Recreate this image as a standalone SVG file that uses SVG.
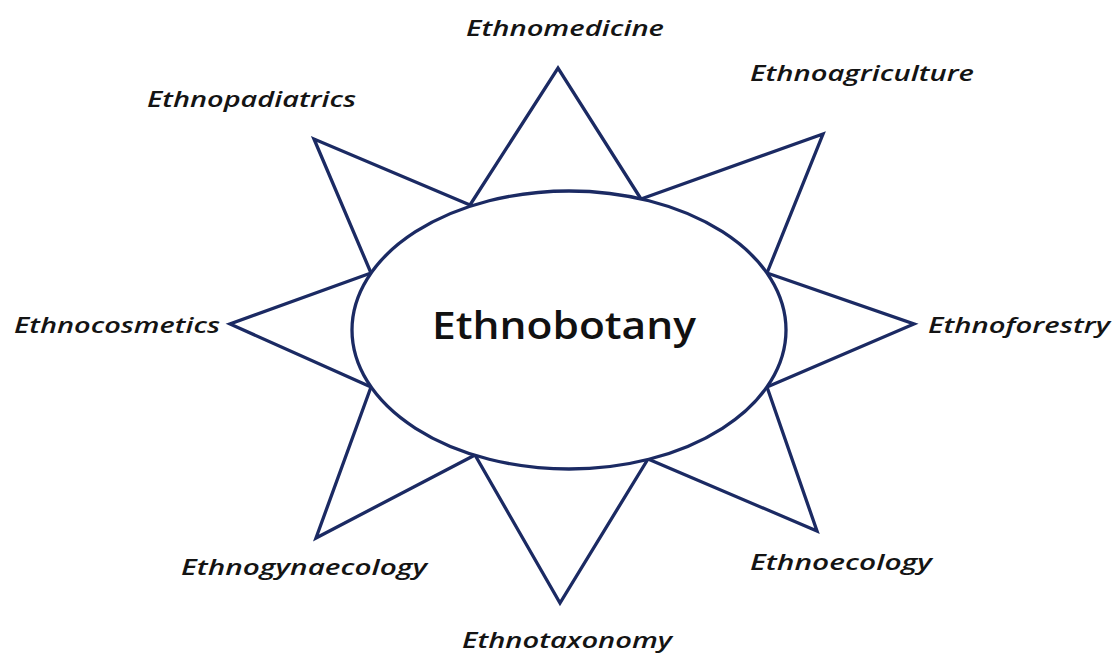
<svg xmlns="http://www.w3.org/2000/svg" width="1115" height="654" viewBox="0 0 1115 654">
  <style>
    .ray { fill: #ffffff; stroke: #1b2a63; stroke-width: 3.3; stroke-linejoin: miter; }
    .core { fill: #ffffff; stroke: #1b2a63; stroke-width: 3.3; }
    .lbl { font-family: "Open Sans", "Liberation Sans", sans-serif; font-style: italic; font-weight: 600; font-size: 22px; fill: #141414; }
    .title { font-family: "Open Sans", "Liberation Sans", sans-serif; font-weight: 600; font-size: 38px; fill: #111111; }
  </style>
  <rect width="1115" height="654" fill="#ffffff"/>
  <g id="connectors"/>
  <g id="ray-ethnomedicine">
    <polyline class="ray" points="470,205 558,68 641,199"/>
    <text class="lbl" x="466" y="36" textLength="198" lengthAdjust="spacingAndGlyphs">Ethnomedicine</text>
  </g>
  <g id="ray-ethnoagriculture">
    <polyline class="ray" points="641,199 823,134 767,273"/>
    <text class="lbl" x="750" y="81" textLength="224" lengthAdjust="spacingAndGlyphs">Ethnoagriculture</text>
  </g>
  <g id="ray-ethnoforestry">
    <polyline class="ray" points="767,273 914,324 767,387"/>
    <text class="lbl" x="928" y="333" textLength="182" lengthAdjust="spacingAndGlyphs">Ethnoforestry</text>
  </g>
  <g id="ray-ethnoecology">
    <polyline class="ray" points="767,387 817,531 648,459"/>
    <text class="lbl" x="750" y="570" textLength="182" lengthAdjust="spacingAndGlyphs">Ethnoecology</text>
  </g>
  <g id="ray-ethnotaxonomy">
    <polyline class="ray" points="648,459 560,603 475,455"/>
    <text class="lbl" x="462" y="648" textLength="210" lengthAdjust="spacingAndGlyphs">Ethnotaxonomy</text>
  </g>
  <g id="ray-ethnogynaecology">
    <polyline class="ray" points="475,455 316,538 371,387"/>
    <text class="lbl" x="181" y="575" textLength="246" lengthAdjust="spacingAndGlyphs">Ethnogynaecology</text>
  </g>
  <g id="ray-ethnocosmetics">
    <polyline class="ray" points="371,387 230,324 371,273"/>
    <text class="lbl" x="14" y="333" textLength="206" lengthAdjust="spacingAndGlyphs">Ethnocosmetics</text>
  </g>
  <g id="ray-ethnopadiatrics">
    <polyline class="ray" points="371,273 314,139 470,205"/>
    <text class="lbl" x="147" y="107" textLength="209" lengthAdjust="spacingAndGlyphs">Ethnopadiatrics</text>
  </g>
  <g id="node-ethnobotany">
    <ellipse class="core" cx="569" cy="330" rx="217" ry="139"/>
    <text class="title" x="432" y="339" textLength="264" lengthAdjust="spacingAndGlyphs">Ethnobotany</text>
  </g>
</svg>
